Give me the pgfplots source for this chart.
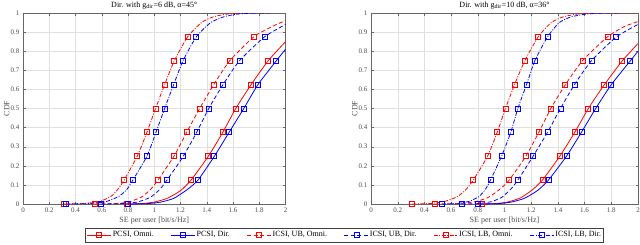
\documentclass[border=0pt]{standalone}
\usepackage{fontspec}
\setmainfont{Liberation Serif}
\usepackage{pgfplots}
\pgfplotsset{compat=1.18}
\definecolor{mred}{RGB}{255,0,0}
\definecolor{mblue}{RGB}{0,0,255}
\pgfplotsset{
  myax/.style={
    scale only axis, height=191pt,
    xmin=0, xmax=2, ymin=0, ymax=1,
    xtick={0,0.2,0.4,0.6,0.8,1,1.2,1.4,1.6,1.8,2},
    ytick={0,0.1,0.2,0.3,0.4,0.5,0.6,0.7,0.8,0.9,1},
    grid=major, grid style={black!12, line width=0.4pt},
    axis line style={black!60, line width=0.4pt},
    tick style={black!60, line width=0.4pt},
    tick align=inside, major tick length=2.5pt,
    ticklabel style={font=\fontsize{7}{8}\selectfont, text=black!70},
    xticklabel style={yshift=-0.5pt},
    /pgf/number format/assume math mode=true,
    xlabel={SE per user [bit/s/Hz]},
    ylabel={CDF},
    label style={font=\fontsize{8}{9}\selectfont, text=black!70},
    xlabel style={at={(axis description cs:0.5,-0.085)}, anchor=center},
    every axis title/.style={font=\fontsize{8}{9}\selectfont, at={(axis description cs:0.5,1.04)}, anchor=center},
    every axis plot/.append style={line width=0.8pt, smooth, tension=0.35},
    legend image code/.code={\draw[#1, mark indices={2}] plot coordinates {(0pt,0pt) (12pt,0pt) (24pt,0pt)};},
  },
  mk/.style={mark=square, mark size=2.5pt, mark options={solid, line width=0.8pt}},
  dsh/.style={dash pattern=on 4pt off 2.5pt},
  dd/.style={dash pattern=on 4pt off 1.5pt on 1pt off 1.5pt},
}
\begin{document}
\begin{tikzpicture}[x=1pt,y=1pt]
\begin{axis}[myax, at={(23pt,40pt)}, anchor=south west, width=262.5pt,
  ylabel style={at={(axis description cs:-0.062,0.5)}, anchor=center},
  title={Dir. with g\textsubscript{dir}=6 dB, α=45°},
  legend columns=6,
  legend style={at={(axis description cs:1.2248,-0.162)}, anchor=center,
    draw=black!75, line width=0.4pt, fill=white,
    font=\fontsize{8}{9.5}\selectfont, inner sep=1.5pt,
    nodes={inner xsep=1pt},
    /tikz/every even column/.append style={column sep=16pt}},
  legend cell align=left]
\addplot[mred, mk, mark indices={1,6,7,8,9,10,11}] coordinates {(0.79,0) (0.9,0.002) (1.0,0.01) (1.1,0.03) (1.2,0.07) (1.28,0.125) (1.412,0.25) (1.522,0.375) (1.621,0.5) (1.738,0.625) (1.868,0.75) (2.0,0.85)};
\addlegendentry{PCSI, Omni.}
\addplot[mblue, mk, mark indices={1,6,7,8,9,10,11}] coordinates {(0.80,0) (0.95,0.002) (1.05,0.01) (1.15,0.03) (1.25,0.075) (1.333,0.125) (1.458,0.25) (1.57,0.375) (1.682,0.5) (1.79,0.625) (1.93,0.75) (2.0,0.81)};
\addlegendentry{PCSI, Dir.}
\addplot[mred, dsh, mk, mark indices={1,6,7,8,9,10,11,12}] coordinates {(0.55,0) (0.7,0.002) (0.8,0.01) (0.9,0.035) (0.97,0.075) (1.028,0.125) (1.15,0.25) (1.247,0.375) (1.346,0.5) (1.453,0.625) (1.575,0.75) (1.758,0.875) (1.9,0.93) (2.0,0.96)};
\addlegendentry{ICSI, UB, Omni.}
\addplot[mblue, dsh, mk, mark indices={1,6,7,8,9,10,11,12}] coordinates {(0.59,0) (0.75,0.002) (0.87,0.01) (0.97,0.035) (1.04,0.075) (1.097,0.125) (1.221,0.25) (1.323,0.375) (1.415,0.5) (1.524,0.625) (1.649,0.75) (1.84,0.875) (2.0,0.94)};
\addlegendentry{ICSI, UB, Dir.}
\addplot[mred, dd, mk, mark indices={1,6,7,8,9,10,11,12}] coordinates {(0.31,0) (0.45,0.002) (0.58,0.012) (0.67,0.04) (0.72,0.075) (0.77,0.125) (0.87,0.25) (0.944,0.375) (1.01,0.5) (1.079,0.625) (1.153,0.75) (1.254,0.875) (1.36,0.95) (1.45,0.98) (1.56,0.995) (1.7,1) (1.885,1)};
\addlegendentry{ICSI, LB, Omni.}
\addplot[mblue, dd, mk, mark indices={1,6,7,8,9,10,11,12}] coordinates {(0.33,0) (0.5,0.002) (0.63,0.012) (0.73,0.04) (0.79,0.075) (0.837,0.125) (0.944,0.25) (1.013,0.375) (1.079,0.5) (1.148,0.625) (1.219,0.75) (1.32,0.875) (1.43,0.95) (1.53,0.98) (1.64,0.995) (1.78,1) (1.885,1)};
\addlegendentry{ICSI, LB, Dir.}
\end{axis}
\begin{axis}[myax, at={(371pt,40pt)}, anchor=south west, width=267pt,
  ylabel style={at={(axis description cs:-0.061,0.5)}, anchor=center},
  title={Dir. with g\textsubscript{dir}=10 dB, α=36°}]
\addplot[mred, mk, mark indices={1,6,7,8,9,10,11}] coordinates {(0.83,0) (0.93,0.002) (1.02,0.01) (1.12,0.032) (1.21,0.075) (1.284,0.125) (1.414,0.25) (1.526,0.375) (1.628,0.5) (1.748,0.625) (1.883,0.75) (2.0,0.84)};
\addplot[mblue, mk, mark indices={1,6,7,8,9,10,11}] coordinates {(0.80,0) (0.95,0.002) (1.05,0.01) (1.15,0.03) (1.25,0.072) (1.329,0.125) (1.464,0.25) (1.576,0.375) (1.683,0.5) (1.80,0.625) (1.943,0.75) (2.0,0.80)};
\addplot[mred, dsh, mk, mark indices={1,6,7,8,9,10,11,12}] coordinates {(0.48,0) (0.65,0.002) (0.78,0.012) (0.88,0.035) (0.97,0.08) (1.035,0.125) (1.16,0.25) (1.257,0.375) (1.347,0.5) (1.456,0.625) (1.584,0.75) (1.771,0.875) (1.9,0.93) (2.0,0.955)};
\addplot[mblue, dsh, mk, mark indices={1,6,7,8,9,10,11,12}] coordinates {(0.68,0) (0.8,0.002) (0.9,0.012) (0.98,0.035) (1.05,0.08) (1.10,0.125) (1.214,0.25) (1.322,0.375) (1.419,0.5) (1.524,0.625) (1.651,0.75) (1.838,0.875) (2.0,0.94)};
\addplot[mred, dd, mk, mark indices={1,6,7,8,9,10,11,12}] coordinates {(0.31,0) (0.45,0.003) (0.56,0.015) (0.65,0.04) (0.71,0.075) (0.766,0.125) (0.873,0.25) (0.945,0.375) (1.007,0.5) (1.075,0.625) (1.152,0.75) (1.252,0.875) (1.35,0.95) (1.44,0.98) (1.55,0.995) (1.7,1) (2.0,1)};
\addplot[mblue, dd, mk, mark indices={1,6,7,8,9,10,11,12}] coordinates {(0.53,0) (0.65,0.003) (0.74,0.015) (0.81,0.04) (0.855,0.075) (0.895,0.125) (0.978,0.25) (1.047,0.375) (1.100,0.5) (1.165,0.625) (1.227,0.75) (1.322,0.875) (1.41,0.95) (1.5,0.98) (1.62,0.995) (1.76,1) (1.875,1)};
\end{axis}
\pgfresetboundingbox
\useasboundingbox (0pt,0pt) rectangle (640pt,244pt);
\end{tikzpicture}
\end{document}
